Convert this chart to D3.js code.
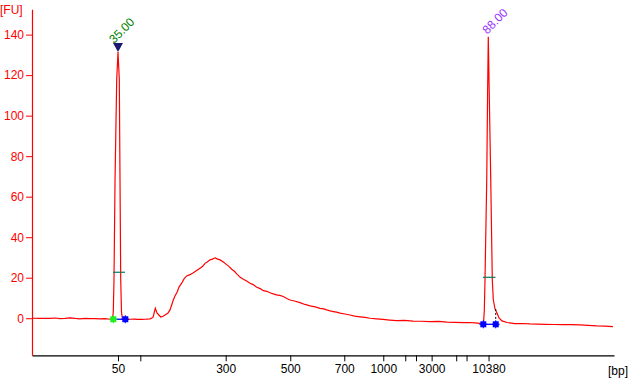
<!DOCTYPE html>
<html>
<head>
<meta charset="utf-8">
<script src="https://cdn.jsdelivr.net/npm/d3@7"></script>
<style>
  html, body { margin: 0; padding: 0; background: #fff; }
  svg text { font-family: "Liberation Sans", Arial, sans-serif; font-size: 12px; }
</style>
</head>
<body>
<svg id="graph"></svg>
<script>
// Migration time (s) and fluorescence (FU)
const timeSec = [
  40.0, 41.4, 42.8, 43.6, 44.3, 45.1, 45.9, 46.7, 47.4, 48.2, 49.0, 49.8, 50.5, 51.3, 52.06, 52.45,
  52.57, 52.68, 52.84, 53.10, 53.30, 53.50, 53.61, 53.72, 53.84, 53.99,
  54.69, 55.15, 55.8, 56.39, 57.0, 57.47, 58.25, 58.71, 59.07, 59.33, 59.90, 60.26, 60.57, 61.03,
  61.34, 61.85, 62.11, 62.47, 62.73, 63.15, 63.51, 63.92, 64.43, 64.94, 65.47, 65.98, 66.4, 66.75,
  67.1, 67.53, 67.9, 68.14, 68.4, 68.61, 69.07, 69.54, 70.00, 70.45, 70.88, 71.3, 71.66, 72.2, 72.68,
  73.2, 73.71, 74.2, 74.75, 75.3, 75.77, 76.3, 76.80, 77.3, 77.84, 78.3, 78.86, 79.4, 79.90,
  80.6, 81.44, 82.2, 82.99, 83.8, 84.54, 85.1, 85.57, 86.1, 86.59, 87.1, 87.63, 88.4, 89.18,
  89.9, 90.72, 91.5, 92.27, 93.3, 94.28, 95.3, 96.40, 97.6, 98.92, 100.2, 101.55, 102.9,
  104.18, 105.4, 106.70, 107.6, 108.51, 109.28, 109.82,
  109.95, 110.05, 110.32, 110.46, 110.56, 110.70, 110.94, 111.18, 111.34, 111.60, 111.91, 112.22,
  112.68, 113.45, 114.69, 115.8, 117.01, 118.2, 119.33, 120.7, 122.11, 123.4, 124.74, 126.0,
  127.32, 128.6, 129.84
]
const fluorescence = [
  0.0, -0.1, -0.1, 0.1, -0.2, -0.1, 0.2, -0.1, -0.3, -0.1, -0.15, -0.2, -0.3, -0.2, -0.5, -0.3,
  3.0, 19.0, 68.0, 118.0, 131.4, 118.0, 68.0, 19.0, 3.0, -0.4,
  -0.6, -0.5, -0.4, -0.6, -0.6, -0.5, -0.3, 0.4, 4.9, 2.6, 0.6, 1.0, 1.6, 2.6,
  4.1, 9.0, 11.0, 13.1, 15.4, 17.3, 19.4, 20.9, 21.5, 22.5, 23.6, 24.7, 25.6, 27.1,
  27.8, 28.8, 29.2, 29.6, 29.8, 29.3, 28.8, 27.9, 26.7, 25.6, 24.2, 23.2, 21.9, 20.2, 19.2,
  18.4, 17.3, 16.6, 15.3, 14.6, 13.6, 13.3, 12.6, 12.0, 11.5, 11.3, 10.7, 9.7, 9.0,
  8.5, 7.7, 6.8, 6.1, 5.6, 4.9, 4.6, 4.1, 3.6, 3.3, 3.0, 2.5, 2.1, 1.6,
  1.0, 0.7, 0.4, 0.0, -0.3, -0.6, -0.9, -1.2, -1.1, -1.4, -1.5, -1.7, -1.6,
  -1.9, -2.0, -2.2, -2.1, -2.3, -2.5, -2.6,
  4.1, 18.9, 68.3, 112.7, 139.0, 112.7, 68.3, 18.9, 9.0, 4.6, 2.6, 0.1,
  -1.3, -2.1, -2.7, -2.6, -2.8, -2.9, -3.0, -3.1, -3.2, -3.2, -3.3, -3.5,
  -3.8, -3.9, -4.1
]

// Ladder positions on the time axis and their size labels
const ladderTimes = [53.3, 56.75, 69.95, 79.94, 88.29, 94.32, 97.72, 99.38, 101.8, 105.6, 107.2, 110.6]
const ladderLabels = ['50', '', '300', '500', '700', '1000', '', '', '3000', '', '', '10380']
const fuTicks = [0, 20, 40, 60, 80, 100, 120, 140]

// Marker peaks (lower / upper)
const peakTimes = [53.3, 110.56]
const peakHeights = [131.4, 139.0]
const peakLabels = ['35.00', '88.00']
const peakLabelColors = ['#008000', '#9933ff']

// Peak start / end points and the level of the width bar
const peakStarts = [52.57, 109.79]
const peakEnds = [54.43, 111.71]
const peakBaseFU = [-0.5, -3.0]
const widthBarFU = [22.7, 20.2]
const widthBarStart = [52.52, 109.74]
const widthBarEnd = [54.38, 111.67]
const startColors = ['#22ee22', '#0000ff']

const width = 632
const height = 391
const margin = { left: 32, right: 18, top: 9.3, bottom: 35.7 }

const svg = d3.select('#graph')
  .attr('width', width)
  .attr('height', height)

const x = d3.scaleLinear()
  .domain([40, 130])
  .range([margin.left, width - margin.right])

const y = d3.scaleLinear()
  .domain([-18.3, 152.5])
  .range([height - margin.bottom, margin.top])

// Axes
const xAxis = svg.append('g')
  .attr('transform', `translate(0, ${height - margin.bottom})`)
  .call(d3.axisBottom(x)
    .tickValues(ladderTimes)
    .tickFormat((d, i) => ladderLabels[i])
    .tickSize(6)
    .tickPadding(3)
    .tickSizeOuter(0))
xAxis.select('.domain').attr('stroke', '#000').attr('stroke-width', 1.2)
xAxis.selectAll('text').attr('fill', '#000')

const yAxis = svg.append('g')
  .attr('transform', `translate(${margin.left}, 0)`)
  .call(d3.axisLeft(y)
    .tickValues(fuTicks)
    .tickSize(6)
    .tickPadding(2)
    .tickSizeOuter(0))
yAxis.select('.domain').attr('stroke', '#ff0000').attr('stroke-width', 1.2)
yAxis.selectAll('.tick line').attr('stroke', '#ff0000')
yAxis.selectAll('text').attr('fill', '#ff0000')

svg.append('text')
  .attr('x', 0)
  .attr('y', 14)
  .attr('fill', '#ff0000')
  .text('[FU]')

svg.append('text')
  .attr('x', width - 4)
  .attr('y', 375)
  .attr('text-anchor', 'end')
  .attr('fill', '#000')
  .text('[bp]')

// Electropherogram trace
const trace = timeSec.map((t, i) => ({ t: t, fu: fluorescence[i] }))
svg.append('path')
  .datum(trace)
  .attr('fill', 'none')
  .attr('stroke', '#ff0000')
  .attr('stroke-width', 1.2)
  .attr('d', d3.line().x(d => x(d.t)).y(d => y(d.fu)))

// Peak width bars
peakTimes.forEach((p, i) => {
  svg.append('line')
    .attr('x1', x(widthBarStart[i]))
    .attr('x2', x(widthBarEnd[i]))
    .attr('y1', y(widthBarFU[i]))
    .attr('y2', y(widthBarFU[i]))
    .attr('stroke', '#007a5a')
    .attr('stroke-width', 1.2)
})

// Upper marker end: dashed drop line
svg.append('line')
  .attr('x1', x(peakEnds[1]))
  .attr('x2', x(peakEnds[1]))
  .attr('y1', y(4.6))
  .attr('y2', y(peakBaseFU[1]))
  .attr('stroke', '#000')
  .attr('stroke-dasharray', '2,2')

// Start / end markers with connecting baseline
peakTimes.forEach((p, i) => {
  const by = y(peakBaseFU[i])
  svg.append('line')
    .attr('x1', x(peakStarts[i]))
    .attr('x2', x(peakEnds[i]))
    .attr('y1', by)
    .attr('y2', by)
    .attr('stroke', '#0000ff')
    .attr('stroke-width', 1.3)
  const pts = [{ t: peakStarts[i], c: startColors[i] }, { t: peakEnds[i], c: '#0000ff' }]
  pts.forEach(pt => {
    svg.append('rect')
      .attr('x', x(pt.t) - 3)
      .attr('y', by - 3)
      .attr('width', 6)
      .attr('height', 6)
      .attr('fill', pt.c)
    svg.append('path')
      .attr('d', `M${x(pt.t) - 4},${by}H${x(pt.t) + 4}M${x(pt.t)},${by - 4}V${by + 4}`)
      .attr('stroke', pt.c)
      .attr('stroke-width', 1)
  })
})

// Lower marker triangle
const tx = x(peakTimes[0])
const ty = y(peakHeights[0])
svg.append('path')
  .attr('d', `M${tx - 5},${ty - 9}L${tx + 5},${ty - 9}L${tx},${ty}Z`)
  .attr('fill', '#1a1a6e')

// Peak labels, rotated
peakTimes.forEach((p, i) => {
  const lx = x(p) - (i === 0 ? 4 : 1)
  const ly = y(peakHeights[i]) - (i === 0 ? 8 : 2)
  svg.append('text')
    .attr('transform', `translate(${lx}, ${ly}) rotate(-45)`)
    .attr('fill', peakLabelColors[i])
    .text(peakLabels[i])
})
</script>
</body>
</html>
